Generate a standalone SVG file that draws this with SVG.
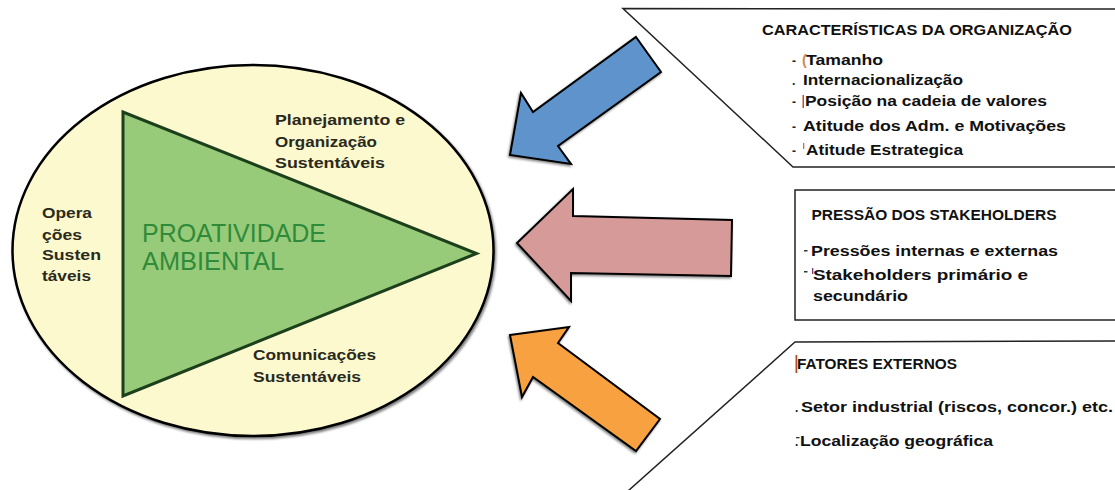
<svg xmlns="http://www.w3.org/2000/svg" width="1115" height="490" viewBox="0 0 1115 490">
<style>
.t{font-family:"Liberation Sans",Arial,sans-serif;font-weight:bold;font-size:14.5px;fill:#111}
.e{font-family:"Liberation Sans",Arial,sans-serif;font-weight:bold;font-size:15px;fill:#2a2a1c}
.g{font-family:"Liberation Sans",Arial,sans-serif;font-size:25.5px;fill:#2f8a3a}
.b{font-family:"Liberation Sans",Arial,sans-serif;font-weight:bold;font-size:12px;fill:#222}
.box{fill:#fff;stroke:#222;stroke-width:1.5}
.arrow{stroke:#000;stroke-width:2;stroke-linejoin:miter;filter:url(#sh)}
</style>
<defs>
<filter id="sh" x="-20%" y="-20%" width="140%" height="140%">
<feDropShadow dx="-1" dy="1.5" stdDeviation="0.8" flood-color="#000" flood-opacity="0.5"/>
</filter>
<filter id="sh2" x="-10%" y="-10%" width="125%" height="125%">
<feDropShadow dx="1.5" dy="2" stdDeviation="1" flood-color="#000" flood-opacity="0.5"/>
</filter>
</defs>
<rect width="1115" height="490" fill="#fff"/>

<g id="core">
<ellipse cx="253" cy="250.5" rx="240.5" ry="185.5" fill="#fdf9cf" stroke="#000" stroke-width="2.5" filter="url(#sh2)"/>
<polygon points="123,112 123,396 476.5,253.5" fill="#98cb79" stroke="#1c3f1c" stroke-width="3" stroke-linejoin="miter"/>
<text class="g" x="142" y="242" textLength="184" lengthAdjust="spacingAndGlyphs">PROATIVIDADE</text>
<text class="g" x="142" y="270" textLength="142" lengthAdjust="spacingAndGlyphs">AMBIENTAL</text>
</g>

<g id="label-operacoes">
<text class="e" x="42" y="218" textLength="50" lengthAdjust="spacingAndGlyphs">Opera</text>
<text class="e" x="42" y="240" textLength="40" lengthAdjust="spacingAndGlyphs">ções</text>
<text class="e" x="42" y="260" textLength="59" lengthAdjust="spacingAndGlyphs">Susten</text>
<text class="e" x="42" y="281" textLength="49" lengthAdjust="spacingAndGlyphs">táveis</text>
</g>

<g id="label-planejamento">
<text class="e" x="275" y="125" textLength="130" lengthAdjust="spacingAndGlyphs">Planejamento e</text>
<text class="e" x="275" y="147" textLength="102" lengthAdjust="spacingAndGlyphs">Organização</text>
<text class="e" x="275" y="168" textLength="110" lengthAdjust="spacingAndGlyphs">Sustentáveis</text>
</g>

<g id="label-comunicacoes">
<text class="e" x="253" y="360" textLength="123" lengthAdjust="spacingAndGlyphs">Comunicações</text>
<text class="e" x="253" y="381.5" textLength="108" lengthAdjust="spacingAndGlyphs">Sustentáveis</text>
</g>

<g id="box-organizacao">
<path class="box" d="M1117,9 L623,8.5 L793,167 L1117,167"/>
<text class="t" x="762" y="35" textLength="310" lengthAdjust="spacingAndGlyphs">CARACTERÍSTICAS DA ORGANIZAÇÃO</text>
<text class="b" x="792" y="65">-</text>
<text class="t" x="802" y="65"><tspan fill="#d08a50">(</tspan><tspan x="806" textLength="77" lengthAdjust="spacingAndGlyphs">Tamanho</tspan></text>
<text class="b" x="792" y="85">.</text>
<text class="t" x="803" y="85" textLength="160" lengthAdjust="spacingAndGlyphs">Internacionalização</text>
<text class="b" x="792" y="106">-</text>
<rect x="802.5" y="95" width="1.5" height="13" fill="#c0502a"/>
<text class="t" x="805" y="106" textLength="242" lengthAdjust="spacingAndGlyphs">Posição na cadeia de valores</text>
<text class="b" x="792" y="130.5">-</text>
<text class="t" x="803" y="130.5" textLength="263" lengthAdjust="spacingAndGlyphs">Atitude dos Adm. e Motivações</text>
<text class="b" x="792" y="155">-</text>
<rect x="803" y="143" width="1.3" height="6" fill="#d06a50"/>
<text class="t" x="806" y="155" textLength="157" lengthAdjust="spacingAndGlyphs">Atitude Estrategica</text>
</g>

<g id="box-stakeholders">
<path class="box" d="M1117,190 L795,190 L795,320 L1117,320"/>
<text class="t" x="811.5" y="219.5" textLength="245" lengthAdjust="spacingAndGlyphs">PRESSÃO DOS STAKEHOLDERS</text>
<rect x="804" y="250" width="3.5" height="1.5" fill="#333"/>
<text class="t" x="811" y="256" textLength="247" lengthAdjust="spacingAndGlyphs">Pressões internas e externas</text>
<rect x="804" y="271" width="3.5" height="1.5" fill="#333"/>
<rect x="812" y="268" width="1.3" height="6" fill="#6a3a90"/>
<text class="t" x="813" y="279.5" textLength="215" lengthAdjust="spacingAndGlyphs">Stakeholders primário e</text>
<text class="t" x="813" y="300.5" textLength="95" lengthAdjust="spacingAndGlyphs">secundário</text>
</g>

<g id="box-externos">
<path class="box" d="M1117,341 L795,342 L628,491"/>
<rect x="795.5" y="355" width="1.8" height="18" fill="#b0502a"/>
<text class="t" x="797" y="368.5" textLength="160" lengthAdjust="spacingAndGlyphs">FATORES EXTERNOS</text>
<text class="b" x="795" y="412">.</text>
<text class="t" x="801" y="412" textLength="312" lengthAdjust="spacingAndGlyphs">Setor industrial (riscos, concor.) etc.</text>
<rect x="796" y="437" width="3.5" height="1.3" fill="#333"/>
<text class="b" x="795" y="446">.</text>
<text class="t" x="800" y="446" textLength="193" lengthAdjust="spacingAndGlyphs">Localização geográfica</text>
</g>

<g id="connectors">
<polygon class="arrow" fill="#5e93cc" points="636,37 661,72 558,146 571,164 510,155 521,93 533,112"/>
<polygon class="arrow" fill="#d69a99" points="573,189 573,216 732,220 731,276 571,273 571,301 517,243"/>
<polygon class="arrow" fill="#f7a13f" points="510,335 569,327 558,343 660,419 636,451 533,377 522,397"/>
</g>
</svg>
